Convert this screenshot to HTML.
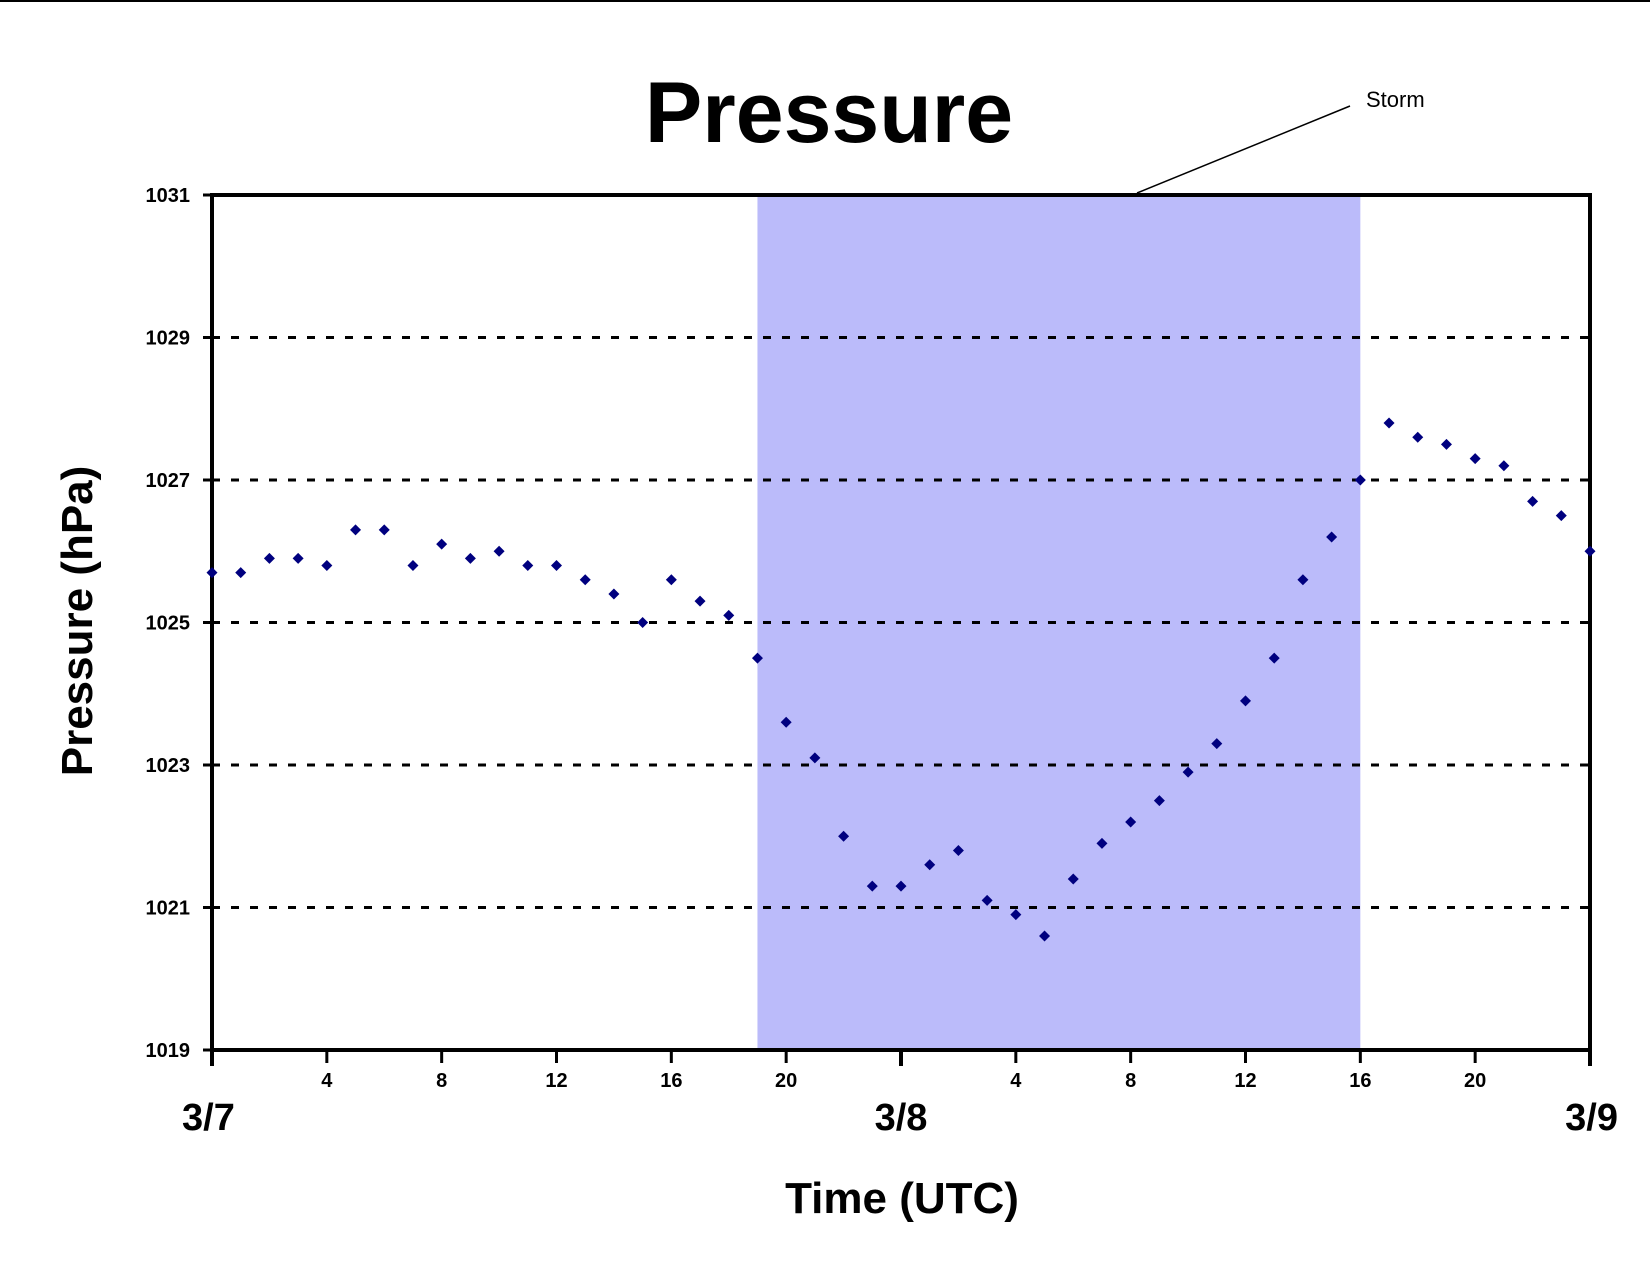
<!DOCTYPE html>
<html><head><meta charset="utf-8"><style>
html,body{margin:0;padding:0;background:#fff;}
svg{display:block;font-family:"Liberation Sans",Arial,sans-serif;}
</style></head><body>
<svg id="chart" width="1650" height="1275" viewBox="0 0 1650 1275">
<line x1="0" y1="1" x2="1650" y2="1" stroke="#000" stroke-width="2"/>
<text x="829" y="142" font-size="86" font-weight="bold" text-anchor="middle">Pressure</text>
<g id="plot"></g>
<line x1="1350" y1="106" x2="1137" y2="193" stroke="#000" stroke-width="1.5"/>
<text x="1366" y="107" font-size="22">Storm</text>
<text x="902" y="1213" font-size="44" font-weight="bold" text-anchor="middle">Time (UTC)</text>
<text transform="translate(92,621) rotate(-90)" font-size="44" font-weight="bold" text-anchor="middle">Pressure (hPa)</text>
</svg>
<script>
const hours = [0,1,2,3,4,5,6,7,8,9,10,11,12,13,14,15,16,17,18,19,20,21,22,23,24,25,26,27,28,29,30,31,32,33,34,35,36,37,38,39,40,41,42,43,44,45,46,47,48];
const pressure = [1025.7,1025.7,1025.9,1025.9,1025.8,1026.3,1026.3,1025.8,1026.1,1025.9,1026.0,1025.8,1025.8,1025.6,1025.4,1025.0,1025.6,1025.3,1025.1,1024.5,1023.6,1023.1,1022.0,1021.3,1021.3,1021.6,1021.8,1021.1,1020.9,1020.6,1021.4,1021.9,1022.2,1022.5,1022.9,1023.3,1023.9,1024.5,1025.6,1026.2,1027.0,1027.8,1027.6,1027.5,1027.3,1027.2,1026.7,1026.5,1026.0];
const yTicks = [1019,1021,1023,1025,1027,1029,1031];
const xTickHours = [4,8,12,16,20,28,32,36,40,44];
const xTickLabels = ["4","8","12","16","20","4","8","12","16","20"];
const dateHours = [0,24,48];
const dateLabels = ["3/7","3/8","3/9"];
const stormSpan = [19,40];

const L=212,R=1590,T=195,B=1050;
const xS=h=>L+(h-0)/48*(R-L);
const yS=p=>B-(p-1019)/12*(B-T);
const NS="http://www.w3.org/2000/svg";
const g=document.getElementById('plot');
function mk(tag,attrs){const e=document.createElementNS(NS,tag);for(const k in attrs)e.setAttribute(k,attrs[k]);g.appendChild(e);return e;}

let e=mk('rect',{x:xS(stormSpan[0]),y:T,width:xS(stormSpan[1])-xS(stormSpan[0]),height:B-T,fill:'#bbbbfa'});



yTicks.forEach(v=>{
  const y=yS(v);
  if(v!==1019&&v!==1031){
    e=mk('line',{x1:L,y1:y,x2:R,y2:y,stroke:'#000','stroke-width':3,'stroke-dasharray':'8 11'});
    
    
  }
  e=mk('line',{x1:L-9,y1:y,x2:L,y2:y,stroke:'#000','stroke-width':3});
  
  
  e=mk('text',{x:L-22,y:y+7,'font-size':20,'font-weight':'bold','text-anchor':'end'});
  e.textContent=v;
  
  
});

e=mk('rect',{x:L,y:T,width:R-L,height:B-T,fill:'none',stroke:'#000','stroke-width':4});



xTickHours.forEach((h,i)=>{
  const x=xS(h);
  e=mk('line',{x1:x,y1:B,x2:x,y2:B+13,stroke:'#000','stroke-width':3});
  
  
  e=mk('text',{x:x,y:B+37,'font-size':20,'font-weight':'bold','text-anchor':'middle'});
  e.textContent=xTickLabels[i];
  
  
});
dateHours.forEach((h,i)=>{
  const x=xS(h);
  e=mk('line',{x1:x,y1:B,x2:x,y2:B+16,stroke:'#000','stroke-width':4});
  
  
  const anchor=i===0?'start':(i===dateHours.length-1?'end':'middle');
  e=mk('text',{x:i===0?x-30:(i===dateHours.length-1?x+28:x),y:B+80,'font-size':38,'font-weight':'bold','text-anchor':anchor});
  e.textContent=dateLabels[i];
  
  
});

hours.forEach((h,i)=>{
  const x=xS(h),y=yS(pressure[i]);
  e=mk('polygon',{points:`${x},${y-5.5} ${x+5.5},${y} ${x},${y+5.5} ${x-5.5},${y}`,fill:'#00007f'});
  
  
});
</script>
</body></html>
